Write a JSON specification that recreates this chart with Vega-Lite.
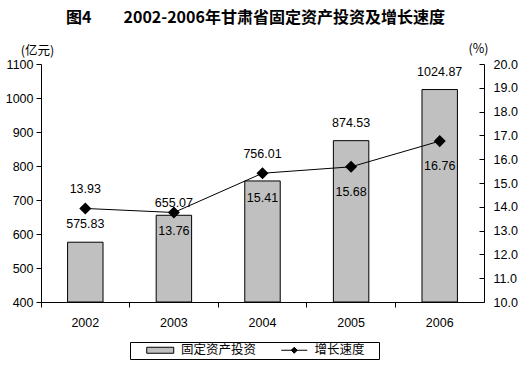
{
  "$schema": "https://vega.github.io/schema/vega-lite/v6.json",
  "width": 443,
  "height": 238,
  "autosize": {"type": "none"},
  "padding": {"left": 41, "top": 64, "right": 47, "bottom": 66},
  "background": "white",
  "title": {
    "text": "图4　　2002-2006年甘肃省固定资产投资及增长速度",
    "font": "Noto Sans CJK SC",
    "fontSize": 16,
    "fontWeight": "bold",
    "color": "black",
    "anchor": "middle",
    "frame": "group",
    "baseline": "middle",
    "offset": 8,
    "dx": -7
  },
  "data": {
    "values": [
      {"year": "2002", "invest": 575.83, "growth": 13.93},
      {"year": "2003", "invest": 655.07, "growth": 13.76},
      {"year": "2004", "invest": 756.01, "growth": 15.41},
      {"year": "2005", "invest": 874.53, "growth": 15.68},
      {"year": "2006", "invest": 1024.87, "growth": 16.76}
    ]
  },
  "encoding": {
    "x": {
      "field": "year",
      "type": "nominal",
      "scale": {"paddingInner": 0, "paddingOuter": 0},
      "axis": {
        "title": null,
        "labelAngle": 0,
        "bandPosition": 0,
        "tickSize": 5,
        "labelPadding": 9,
        "labelOffset": 0
      }
    }
  },
  "layer": [
    {
      "encoding": {
        "y": {
          "field": "invest",
          "type": "quantitative",
          "scale": {"domain": [400, 1100], "nice": false, "zero": false},
          "axis": {
            "orient": "left",
            "values": [400, 500, 600, 700, 800, 900, 1000, 1100],
            "format": "d",
            "tickSize": 5,
            "labelPadding": 3,
            "title": "(亿元)",
            "titleAngle": 0,
            "titleX": -4,
            "titleY": -14,
            "titleAlign": "center",
            "titleBaseline": "middle",
            "titleFont": "Noto Sans CJK SC",
            "titleFontSize": 12.5,
            "titleFontWeight": "normal",
            "titleColor": "black"
          }
        }
      },
      "layer": [
        {
          "mark": {"type": "bar", "width": {"band": 0.4}, "stroke": "black", "strokeWidth": 1},
          "encoding": {
            "y2": {"datum": 400},
            "fill": {
              "datum": "固定资产投资",
              "scale": {"range": ["#c0c0c0"]},
              "legend": {
                "title": null,
                "orient": "none",
                "legendX": 89,
                "legendY": 278,
                "strokeColor": "black",
                "padding": 2,
                "symbolType": "M-4.67,0M2.83,-1H11.83V1H2.83ZM78.67,0",
                "symbolSize": 36,
                "symbolStrokeColor": "black",
                "symbolStrokeWidth": 1,
                "labelFont": "Noto Sans CJK SC",
                "labelFontSize": 12.5,
                "labelColor": "black",
                "labelOffset": 36.5
              }
            }
          }
        },
        {
          "transform": [{"filter": "datum.year != '2003' && datum.year != '2004'"}],
          "mark": {"type": "text", "font": "Liberation Sans", "fontSize": 12.5, "color": "black", "baseline": "middle", "dy": -18},
          "encoding": {"text": {"field": "invest", "type": "quantitative", "format": ".2f"}}
        },
        {
          "transform": [{"filter": "datum.year == '2003'"}],
          "mark": {"type": "text", "font": "Liberation Sans", "fontSize": 12.5, "color": "black", "baseline": "middle", "dy": -12},
          "encoding": {"text": {"field": "invest", "type": "quantitative", "format": ".2f"}}
        },
        {
          "transform": [{"filter": "datum.year == '2004'"}],
          "mark": {"type": "text", "font": "Liberation Sans", "fontSize": 12.5, "color": "black", "baseline": "middle", "dy": -27},
          "encoding": {"text": {"field": "invest", "type": "quantitative", "format": ".2f"}}
        }
      ]
    },
    {
      "encoding": {
        "y": {
          "field": "growth",
          "type": "quantitative",
          "scale": {"domain": [10, 20], "nice": false, "zero": false},
          "axis": {
            "orient": "right",
            "values": [10, 11, 12, 13, 14, 15, 16, 17, 18, 19, 20],
            "format": ".1f",
            "tickSize": -5,
            "labelPadding": 14,
            "title": "(%)",
            "titleAngle": 0,
            "titleX": -6,
            "titleY": -16,
            "titleAlign": "center",
            "titleBaseline": "middle",
            "titleFont": "Noto Sans CJK SC",
            "titleFontSize": 12.5,
            "titleFontWeight": "normal",
            "titleColor": "black"
          }
        }
      },
      "layer": [
        {
          "mark": {"type": "line", "strokeWidth": 1, "point": {"filled": true, "fill": "black", "shape": "diamond", "size": 85, "opacity": 1}},
          "encoding": {
            "stroke": {
              "datum": "增长速度",
              "scale": {"range": ["black"]},
              "legend": {
                "title": null,
                "orient": "none",
                "legendX": 237,
                "legendY": 280,
                "padding": 0,
                "symbolType": "M-1,0H7.67M3.33,-1L4.33,0L3.33,1L2.33,0Z",
                "symbolSize": 36,
                "symbolFillColor": "black",
                "symbolStrokeColor": "black",
                "symbolStrokeWidth": 1,
                "labelFont": "Noto Sans CJK SC",
                "labelFontSize": 12.5,
                "labelColor": "black",
                "labelOffset": 24
              }
            }
          }
        },
        {
          "transform": [{"filter": "datum.year == '2002'"}],
          "mark": {"type": "text", "font": "Liberation Sans", "fontSize": 12.5, "color": "black", "baseline": "middle", "dy": -19},
          "encoding": {"text": {"field": "growth", "type": "quantitative", "format": ".2f"}}
        },
        {
          "transform": [{"filter": "datum.year == '2003'"}],
          "mark": {"type": "text", "font": "Liberation Sans", "fontSize": 12.5, "color": "black", "baseline": "middle", "dy": 18},
          "encoding": {"text": {"field": "growth", "type": "quantitative", "format": ".2f"}}
        },
        {
          "transform": [{"filter": "datum.year != '2002' && datum.year != '2003'"}],
          "mark": {"type": "text", "font": "Liberation Sans", "fontSize": 12.5, "color": "black", "baseline": "middle", "dy": 25},
          "encoding": {"text": {"field": "growth", "type": "quantitative", "format": ".2f"}}
        }
      ]
    }
  ],
  "resolve": {"scale": {"y": "independent"}},
  "config": {
    "view": {"stroke": null},
    "axis": {
      "grid": false,
      "domainColor": "black",
      "tickColor": "black",
      "labelColor": "black",
      "labelFont": "Liberation Sans",
      "labelFontSize": 12.5,
      "domainWidth": 1,
      "tickWidth": 1
    }
  }
}
